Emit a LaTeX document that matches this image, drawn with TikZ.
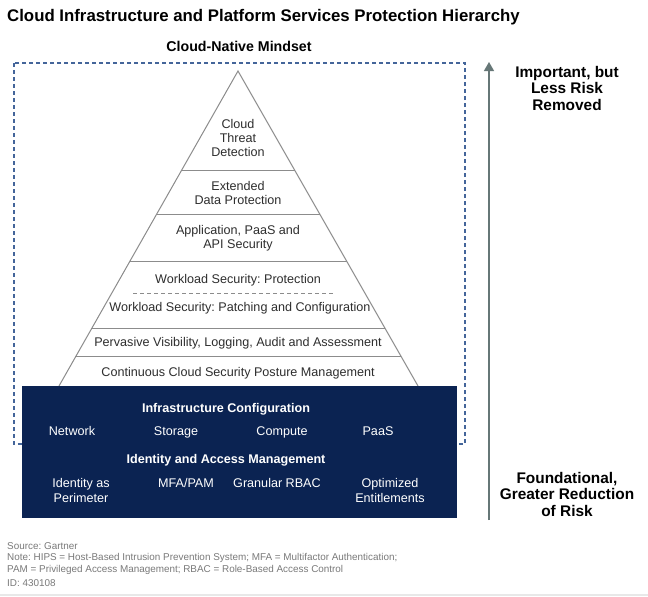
\documentclass[tikz,border=0pt]{standalone}
\usepackage{fontspec}
\setmainfont{Liberation Sans}
\usetikzlibrary{calc,arrows.meta}
\definecolor{navy}{HTML}{0B2352}
\definecolor{dashblue}{HTML}{44659A}
\definecolor{pyrgrey}{HTML}{8C8C8C}
\definecolor{txtgrey}{HTML}{2E2E2E}
\definecolor{arrowgrey}{HTML}{667777}
\definecolor{footgrey}{HTML}{7A7A7A}
\definecolor{sepgrey}{HTML}{E8E8E8}
\frenchspacing
\begin{document}
\begin{tikzpicture}[x=1pt,y=-1pt,
  titletext/.style={font=\fontsize{16.8}{18}\selectfont\bfseries, text=black, anchor=west, inner sep=0pt},
  headtext/.style={font=\fontsize{14.2}{16}\selectfont\bfseries, text=black, inner sep=0pt},
  layertext/.style={font=\fontsize{12.6}{14}\selectfont, text=txtgrey, align=center, inner sep=0pt},
  whitebold/.style={font=\fontsize{12.6}{14}\selectfont\bfseries, text=white, align=center, inner sep=0pt},
  whitetext/.style={font=\fontsize{12.6}{15}\selectfont, text=white, align=center, inner sep=0pt},
  sidetext/.style={font=\fontsize{15.4}{16.5}\selectfont\bfseries, text=black, align=center, inner sep=0pt},
  foottext/.style={font=\fontsize{9.9}{11}\selectfont, text=footgrey, anchor=west, inner sep=0pt},
  pyrline/.style={draw=pyrgrey, line width=1pt},
  mindset/.style={draw=dashblue, line width=1.1pt, dash pattern=on 4pt off 3pt},
]
\useasboundingbox (0,0) rectangle (648,597);
\fill[white] (0,0) rectangle (648,597);

% title
\node[titletext] (title) at (7,17) {Cloud Infrastructure and Platform Services Protection Hierarchy};
\node[headtext] (mindsethead) at (239,46) {Cloud-Native Mindset};

% dashed mindset frame
\draw[mindset] (14,63) rectangle (465,444);

% pyramid
\coordinate (apex) at (238,71);
\coordinate (bl) at (59,386);
\coordinate (br) at (418,386);
\draw[pyrline] (bl) -- (apex) -- (br);
\foreach \t in {0.3143,0.4540,0.6032,0.8159,0.9079}{
  \draw[pyrline] ($(apex)!\t!(bl)$) -- ($(apex)!\t!(br)$);
}
\draw[draw=pyrgrey, line width=1pt, dash pattern=on 4pt off 3pt] (133,293) -- (334,293);

\node[layertext] (ctd) at (238,138) {Cloud\\Threat\\Detection};
\node[layertext] (edp) at (238,193) {Extended\\Data Protection};
\node[layertext] (api) at (238,238) {Application, PaaS and\\API Security};
\node[layertext, anchor=base] (wsp) at (238,283) {Workload Security: Protection};
\node[layertext, anchor=base] (wsc) at (240,311) {Workload Security: Patching and Configuration};
\node[layertext, anchor=base] (pvl) at (238,346) {Pervasive Visibility, Logging, Audit and Assessment};
\node[layertext, anchor=base] (ccs) at (238,376) {Continuous Cloud Security Posture Management};

% foundation box
\fill[navy] (22,386) rectangle (457,518);
\node[whitebold, anchor=base] (infra) at (226,412) {Infrastructure Configuration};
\node[whitetext, anchor=base] (network) at (72,435) {Network};
\node[whitetext, anchor=base] (storage) at (176,435) {Storage};
\node[whitetext, anchor=base] (compute) at (282,435) {Compute};
\node[whitetext, anchor=base] (paas) at (378,435) {PaaS};
\node[whitebold, anchor=base] (iam) at (226,463) {Identity and Access Management};
\node[whitetext] (idp) at (81,490) {Identity as\\Perimeter};
\node[whitetext, anchor=base] (mfa) at (186,487) {MFA/PAM};
\node[whitetext, anchor=base] (rbac) at (277,487) {Granular RBAC};
\node[whitetext] (opt) at (390,490) {Optimized\\Entitlements};

% risk arrow
\coordinate (abot) at (489,520);
\coordinate (atop) at (489,62);
\draw[draw=arrowgrey, line width=1.3pt, -{Triangle[width=10pt,length=9pt]}] (abot) -- (atop);
\node[sidetext] (top) at (567,88) {Important, but\\Less Risk\\Removed};
\node[sidetext] (bottom) at (567,494) {Foundational,\\Greater Reduction\\of Risk};

% footer
\node[foottext] (src) at (7,546) {Source: Gartner};
\node[foottext] (note1) at (7,558) {Note: HIPS = Host-Based Intrusion Prevention System; MFA = Multifactor Authentication;};
\node[foottext] (note2) at (7,570) {PAM = Privileged Access Management; RBAC = Role-Based Access Control};
\node[foottext] (id) at (7,583) {ID: 430108};
\draw[draw=sepgrey, line width=2pt] (0,595) -- (648,595);
\end{tikzpicture}
\end{document}
